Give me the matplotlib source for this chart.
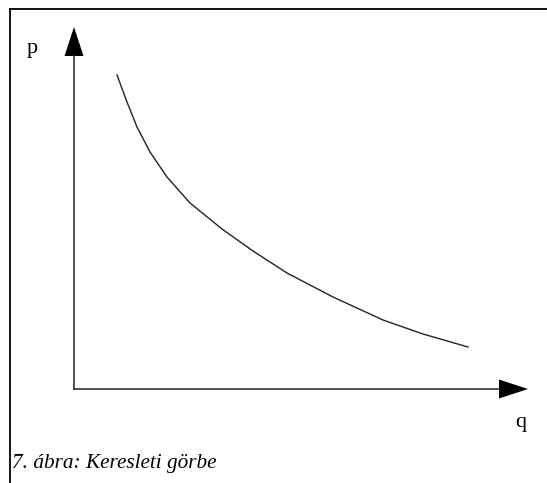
import numpy as np
import matplotlib
matplotlib.use("Agg")
import matplotlib.pyplot as plt

# demand curve (q to the right, p upwards, origin at the axes corner)
q_vals = [43, 53, 63, 76, 93, 116, 148, 179, 213, 259, 309, 349, 394]
p_vals = [314, 287, 262, 237, 212, 186, 160, 138, 116, 92, 69, 55, 42]

axis_q_end = 454
axis_p_end = 362
caption = "7. ábra: Keresleti görbe"

plt.rcParams['font.family'] = ['Liberation Serif', 'DejaVu Serif']

fig = plt.figure(figsize=(5.47, 4.83), dpi=100)
ax = fig.add_axes([0, 0, 1, 1])
ax.set_xlim(-74, 473)
ax.set_ylim(-94, 389)
ax.axis('off')

# curve
ax.plot(q_vals, p_vals, color='#222222', lw=1.0, solid_joinstyle='round')

# axes with arrow heads
head_len = 29
head_w = 9.5
ax.plot([0, 0], [0, axis_p_end - head_len], color='#333333', lw=1.2)
ax.plot([0, axis_q_end - head_len], [0, 0], color='#333333', lw=1.2)
ax.fill([-head_w, head_w, 0], [axis_p_end - head_len, axis_p_end - head_len, axis_p_end],
        color='black', lw=0)
ax.fill([axis_q_end - head_len, axis_q_end - head_len, axis_q_end], [-head_w, head_w, 0],
        color='black', lw=0)

ax.text(-42, 341, "p", fontsize=16, ha='center', va='center')
ax.text(447, -33, "q", fontsize=16, ha='center', va='center')

# frame lines (left and top only, rest is cut off)
W, H = 547, 483
fig.add_artist(plt.Line2D([10 / W, 10 / W], [0, 1 - 9 / H], color='black', lw=1.3))
fig.add_artist(plt.Line2D([10 / W, 1], [1 - 9 / H, 1 - 9 / H], color='black', lw=1.3))

fig.text(12 / W, 1 - 468 / H, caption, fontsize=15.3, style='italic',
         ha='left', va='baseline')

fig.savefig("out.png", dpi=100)
